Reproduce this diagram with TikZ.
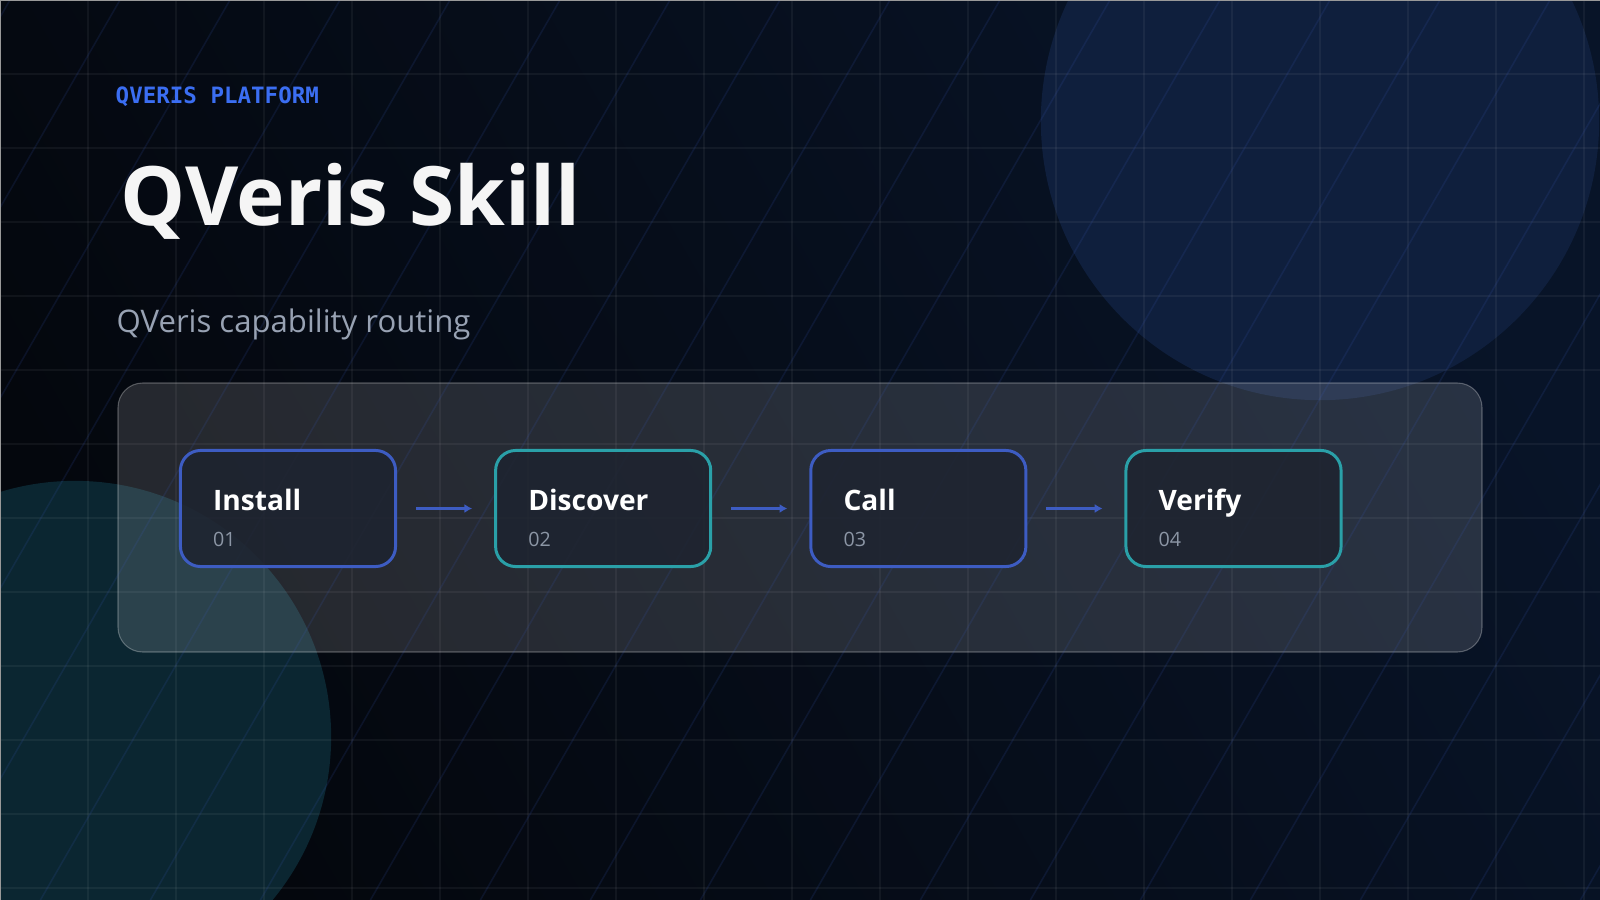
\documentclass[tikz,border=0pt]{standalone}
\usepackage{fontspec}
\setmainfont{Open Sans}
\newfontfamily\kickerfont{DejaVu Sans Mono}
\usetikzlibrary{
arrows.meta,
positioning
}
\definecolor{BgTL}{HTML}{04070D}
\definecolor{BgBR}{HTML}{081428}
\definecolor{OrbBlue}{HTML}{0F1F3D}
\definecolor{OrbTeal}{HTML}{0B2631}
\definecolor{AccBlue}{HTML}{3D5CC2}
\definecolor{AccTeal}{HTML}{2AA0A8}
\definecolor{KickerBlue}{HTML}{3B6EF2}
\definecolor{SubGray}{HTML}{98A2B3}
\definecolor{NumGray}{HTML}{8C96A5}
\definecolor{BoxFill}{HTML}{1E2430}
\definecolor{DiagBlue}{HTML}{3B5BC0}

\tikzset{
    stepbox/.style={
        draw=#1,
        line width=0.85pt,
        fill=BoxFill,
        fill opacity=0.88,
        rounded corners=5.7pt,
        minimum width=2.15cm,
        minimum height=1.16cm,
        inner sep=0pt
    },
    steptitle/.style={
        anchor=base west,
        inner sep=0pt,
        text=white,
        font=\fontsize{8.0}{10}\selectfont\bfseries
    },
    stepnum/.style={
        anchor=base west,
        inner sep=0pt,
        text=NumGray,
        font=\fontsize{5.6}{7}\selectfont
    },
    flow/.style={
        -{Latex[length=2.2pt,width=2.6pt]},
        AccBlue,
        line width=0.95pt,
        shorten <=1.9mm,
        shorten >=2.2mm
    },
    gridln/.style={
        white,
        opacity=0.05,
        line width=0.3pt
    },
    diag/.style={
        DiagBlue,
        opacity=0.14,
        line width=0.45pt
    }
}

\begin{document}
\begin{tikzpicture}[
    x=0.01cm,
    y=-0.01cm
]

\useasboundingbox (0,0) rectangle (1600,900);
\clip (0,0) rectangle (1600,900);

% =====================================================
% BACKGROUND
% =====================================================
\shade[
    left color=BgTL,
    right color=BgBR,
    shading angle=120
]
(0,0) rectangle (1600,900);

% glow orbs
\fill[OrbBlue] (1320,121) circle (2.79cm);
\fill[OrbTeal] (75,737) circle (2.56cm);

% =====================================================
% FLOW PANEL
% =====================================================
\draw[
    white,
    draw opacity=0.28,
    fill opacity=0.135,
    fill=white,
    line width=0.3pt,
    rounded corners=7pt
]
(118,383) rectangle (1482,652);

% =====================================================
% GRID AND DIAGONAL LINES
% =====================================================
\foreach \gx in {88,176,...,1584}{
    \draw[gridln] (\gx,0) -- (\gx,900);
}
\foreach \gy in {74,148,...,888}{
    \draw[gridln] (0,\gy) -- (1600,\gy);
}
\foreach \k in {-1,...,18}{
    \draw[diag] ({120+110*\k},0) -- ({120+110*\k-519.6},900);
}

% frame edges
\draw[
    gray!80,
    line width=0.4pt
]
(0.7,900) -- (0.7,0.7) -- (1600,0.7);

% =====================================================
% HEADER
% =====================================================
\node[
    anchor=base west,
    inner sep=0pt,
    text=KickerBlue,
    font=\kickerfont\bfseries\fontsize{6.4}{8}\selectfont
]
(kicker)
at (115,103)
{QVERIS PLATFORM};

\node[
    anchor=base west,
    inner sep=0pt,
    text=white!96!black,
    font=\fontsize{23.3}{28}\selectfont\bfseries
]
(title)
at (120,225)
{QVeris Skill};

\node[
    anchor=base west,
    inner sep=0pt,
    text=SubGray,
    font=\fontsize{8.85}{11}\selectfont
]
(subtitle)
at (116,332)
{QVeris capability routing};

% =====================================================
% STEP BOXES
% =====================================================
\node[stepbox=AccBlue] (install) at (288,508.5) {};
\node[stepbox=AccTeal, right=0.97cm of install] (discover) {};
\node[stepbox=AccBlue, right=0.97cm of discover] (call) {};
\node[stepbox=AccTeal, right=0.97cm of call] (verify) {};

\foreach \s/\lab/\num in {
install/Install/01,
discover/Discover/02,
call/Call/03,
verify/Verify/04
}{
    \node[steptitle]
    (\s-title)
    at ([xshift=0.335cm,yshift=-0.61cm]\s.north west)
    {\lab};

    \node[stepnum]
    (\s-num)
    at ([xshift=0.335cm,yshift=-0.97cm]\s.north west)
    {\num};
}

% Connections
\draw[flow] (install) -- (discover);
\draw[flow] (discover) -- (call);
\draw[flow] (call) -- (verify);

\end{tikzpicture}
\end{document}
